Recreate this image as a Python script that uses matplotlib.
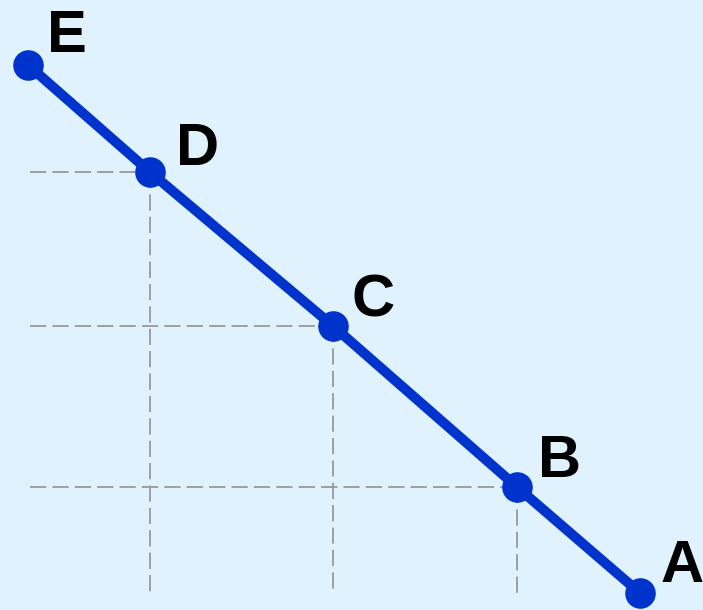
import matplotlib
matplotlib.use("Agg")
import matplotlib.pyplot as plt

# points along the line, from A (bottom right) to E (top left)
labels = ["A", "B", "C", "D", "E"]
qty = [640, 517, 333, 150, 28]
price = [17, 123, 284, 438, 545]

# which points get dashed guides to the axes
guided = ["B", "C", "D"]
guide_left = 30
guide_bottom = 17

bg = "#e0f2fd"
blue = "#0033cc"
grey = "#999999"

fig = plt.figure(figsize=(7.03, 6.10), dpi=100, facecolor=bg)
ax = fig.add_axes([0, 0, 1, 1])
ax.set_facecolor(bg)
ax.set_xlim(0, 703)
ax.set_ylim(0, 610)
ax.axis("off")

for lab, x, y in zip(labels, qty, price):
    if lab in guided:
        ax.plot([guide_left, x], [y, y], color=grey, lw=1.3,
                dashes=(9, 3.4), zorder=1)
        ax.plot([x, x], [y, guide_bottom], color=grey, lw=1.3,
                dashes=(9, 3.4), zorder=1)

ax.plot(qty, price, color=blue, lw=7.2, solid_capstyle="round", zorder=2)
ax.plot(qty, price, "o", color=blue, ms=21, zorder=3)

offsets = {"A": (15, 8), "B": (15, 7), "C": (13, 7), "D": (19, 5), "E": (13.5, 9)}
for lab, x, y in zip(labels, qty, price):
    ax.annotate(lab, (x, y), xytext=offsets[lab], textcoords="offset points",
                fontsize=43, fontweight="bold", family="Liberation Sans",
                ha="left", va="baseline", color="black", zorder=4,
                annotation_clip=False)

fig.savefig("out.png", dpi=100, facecolor=bg)
